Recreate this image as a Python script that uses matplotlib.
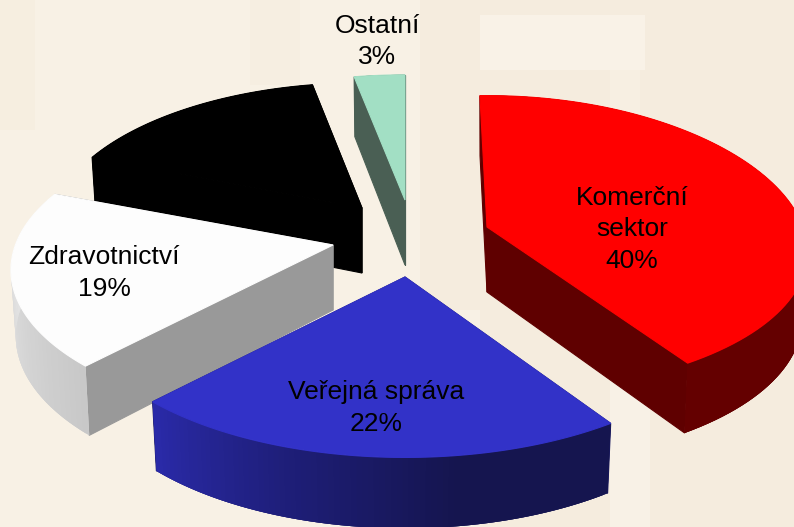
import numpy as np
import matplotlib
matplotlib.use("Agg")
import matplotlib.pyplot as plt
from matplotlib.patches import Polygon, Rectangle
from matplotlib.colors import LinearSegmentedColormap

# --- data (shares; printed labels are rounded)
categories = ["Komerční\nsektor", "Veřejná správa", "Zdravotnictví", "", "Ostatní"]
shares = [40.8, 21.2, 19.0, 16.0, 3.0]
pct_labels = ["40%", "22%", "19%", "", "3%"]

# --- style / layout
top_colors = ["#ff0000", "#3232c8", "#fdfdfd", "#000000", "#a2dfc4"]
radial_colors = ["#5f0000", "#1a1a60", "#999999", "#000000", "#4a5f54"]
wall_colors = [["#640000", "#640000"],
               ["#15154f", "#15154f", "#1e1e78", "#2a2aa8"],
               ["#c8c8c8", "#dcdcdc", "#eeeeee"],
               ["#000000", "#000000"],
               ["#4a5f54", "#4a5f54"]]
apex = [(487, 227), (405, 277), (333, 245), (362, 208), (405, 200)]
start_nudge_deg = [-1.5, 0, 0, 0, 0]
rx_scale = [1.0, 1.025, 1.005, 0.975, 1.0]
ry_back = [1.05, 1.03, 1.0, 1.0, 1.0]
ry_front = [0.95, 1.03, 1.0, 1.0, 1.0]
label_xy = [(632, 229.5), (376, 408), (104, 273), None, (377, 41.5)]
RX, RY, K, DEPTH = 316.0, 146.0, 1 / 6, 65.0

W, H = 794, 527
fig = plt.figure(figsize=(W / 100, H / 100), dpi=100)
ax = fig.add_axes([0, 0, 1, 1])
ax.set_xlim(0, W)
ax.set_ylim(H, 0)
ax.axis("off")
ax.add_patch(Rectangle((0, 0), W, H, fc="#f5ecde", ec="none", zorder=0))
# faint backdrop texture
for x, y, w, h, c in [(0, 0, 480, 527, "#f8f1e5"), (0, 0, 35, 130, "#f6eee0"),
                      (250, 0, 50, 85, "#f6eee1"),
                      (480, 15, 165, 55, "#f9f2e7"), (610, 70, 30, 50, "#f7efe2"),
                      (420, 0, 60, 310, "#f5ecde"),
                      (610, 380, 40, 147, "#f8f1e6")]:
    ax.add_patch(Rectangle((x, y), w, h, fc=c, ec="none", zorder=0.5))


def project(theta, sx, sb, sf):
    """Pie plane to screen: angle clockwise from 12 o'clock, with perspective."""
    u, v = np.sin(theta), -np.cos(theta)
    d = 1 - K * v
    sy = sb + (sf - sb) * (v + 1) / 2
    return sx * RX * u / d, sy * RY * v / d, DEPTH / (1 - 0.5 * K * v)


edges = np.deg2rad(np.concatenate([[0], np.cumsum(shares)]) * 3.6)
z = 1
for i in [4, 3, 2, 1, 0]:
    a0, a1 = edges[i] + np.deg2rad(start_nudge_deg[i]), edges[i + 1]
    cx, cy = apex[i]
    th = np.linspace(a0, a1, 90)
    xs, ys, ds = project(th, rx_scale[i], ry_back[i], ry_front[i])
    xs, ys = xs + cx, ys + cy
    xb = cx + (xs - cx) * 0.985  # wall foot, slightly inward
    yb = ys + ds
    # radial walls
    for j in (0, -1):
        ax.add_patch(Polygon([(cx, cy), (xs[j], ys[j]), (xb[j], yb[j]), (cx, cy + DEPTH)],
                             fc=radial_colors[i], ec=radial_colors[i], lw=0.8, zorder=z))
    # outer wall with gradient: solid base, then overlapping bands
    cmap = LinearSegmentedColormap.from_list("w", wall_colors[i])
    ax.add_patch(Polygon(np.column_stack([np.r_[xs, xb[::-1]], np.r_[ys, yb[::-1]]]),
                         fc=cmap(0.5), ec="none", zorder=z + 0.1))
    for k in range(len(th) - 1):
        c = cmap(k / (len(th) - 2))
        k2 = min(k + 2, len(th) - 1)  # overlap the next band to hide seams
        ax.add_patch(Polygon([(xs[k], ys[k]), (xs[k2], ys[k2]), (xb[k2], yb[k2]), (xb[k], yb[k])],
                             fc=c, ec="none", zorder=z + 0.1 + k * 1e-4))
    # top face
    ax.add_patch(Polygon(np.column_stack([np.r_[cx, xs], np.r_[cy, ys]]),
                         fc=top_colors[i], ec=top_colors[i], lw=0.8, zorder=z + 0.2))
    z += 1

for name, pct, pos in zip(categories, pct_labels, label_xy):
    if pos is None:
        continue
    ax.text(pos[0], pos[1], f"{name}\n{pct}", ha="center", va="center", color="#000000",
            family="Liberation Sans", fontsize=19, linespacing=1.38, zorder=20)

fig.savefig("out.png", dpi=100)
